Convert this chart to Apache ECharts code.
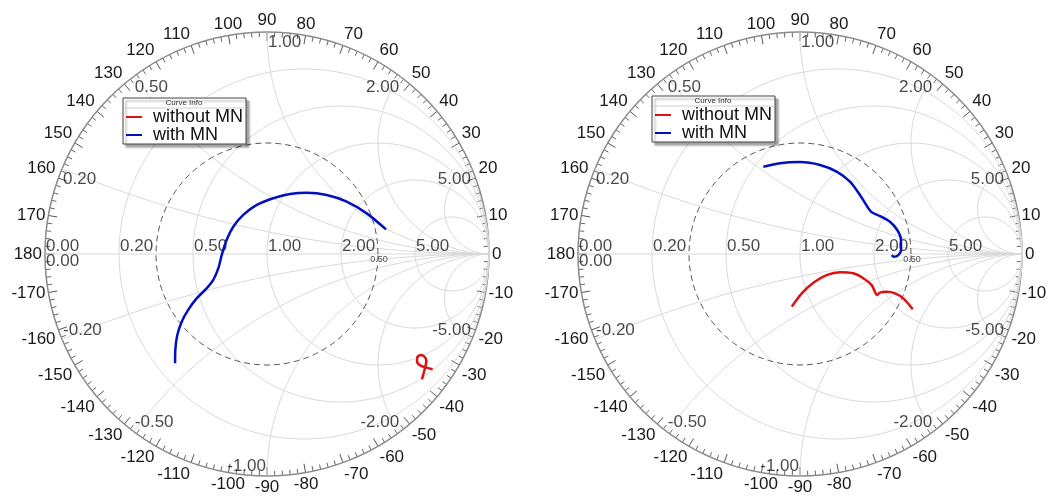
<!DOCTYPE html>
<html><head><meta charset="utf-8">
<script src="https://cdn.jsdelivr.net/npm/echarts@6/dist/echarts.min.js"></script>
<style>html,body{margin:0;padding:0;background:#fff}#c{width:1051px;height:496px}</style>
</head><body><div id="c"></div>
<script>
// ---- grid definition values ----
const resistanceValues = [0.2, 0.5, 1, 2, 5];
const resistanceLabels = ['0.20', '0.50', '1.00', '2.00', '5.00'];
const reactanceValues = [0.2, 0.5, 1, 2, 5, -0.2, -0.5, -1, -2, -5];
const reactanceLabels = ['0.20', '0.50', '1.00', '2.00', '5.00', '-0.20', '-0.50', '-1.00', '-2.00', '-5.00'];
const vswrRadius = 0.5;
const vswrLabel = '0.50';
const seriesNames = ['without MN', 'with MN'];

// ---- left chart data (reflection coefficient, Re / Im) ----
const leftWithoutRe = [0.746, 0.719, 0.692, 0.676, 0.677, 0.692, 0.710, 0.718, 0.713, 0.706, 0.698];
const leftWithoutIm = [-0.519, -0.512, -0.503, -0.485, -0.465, -0.455, -0.463, -0.482, -0.508, -0.535, -0.565];
const leftWithRe = [0.536, 0.449, 0.359, 0.269, 0.179, 0.104, 0.028, -0.046, -0.107, -0.152, -0.182, -0.204, -0.219, -0.242, -0.272, -0.317, -0.355, -0.384, -0.404, -0.413, -0.414];
const leftWithIm = [0.111, 0.183, 0.236, 0.266, 0.276, 0.270, 0.251, 0.221, 0.176, 0.123, 0.063, -0.005, -0.064, -0.117, -0.155, -0.200, -0.252, -0.305, -0.365, -0.432, -0.492];

// ---- right chart data ----
const rightWithoutRe = [-0.037, 0.008, 0.060, 0.120, 0.180, 0.240, 0.285, 0.323, 0.348, 0.360, 0.390, 0.428, 0.465, 0.508];
const rightWithoutIm = [-0.237, -0.177, -0.129, -0.095, -0.082, -0.087, -0.109, -0.140, -0.185, -0.174, -0.170, -0.177, -0.200, -0.249];
const rightWithRe = [-0.165, -0.090, 0.000, 0.090, 0.165, 0.225, 0.270, 0.308, 0.323, 0.360, 0.405, 0.438, 0.455, 0.455, 0.443, 0.423, 0.413];
const rightWithIm = [0.393, 0.409, 0.414, 0.401, 0.371, 0.326, 0.266, 0.206, 0.188, 0.171, 0.145, 0.108, 0.063, 0.018, -0.005, -0.012, -0.005];

const FONT = 'Liberation Sans, Arial, sans-serif';
const GRIDC = '#d9d9d9';
const charts = [
  { cx: 267, cy: 254, R: 222, wRe: leftWithoutRe, wIm: leftWithoutIm, mRe: leftWithRe, mIm: leftWithIm, lg: [123, 98] },
  { cx: 800, cy: 254, R: 222, wRe: rightWithoutRe, wIm: rightWithoutIm, mRe: rightWithRe, mIm: rightWithIm, lg: [652, 96] }
];

function gamma(r, x) {
  const d = (r + 1) * (r + 1) + x * x;
  return [(r * r - 1 + x * x) / d, 2 * x / d];
}
function zip(a, b) { return a.map((v, i) => [v, b[i]]); }

const grids = [], xAxes = [], yAxes = [], polars = [], angleAxes = [], radiusAxes = [], series = [], legends = [], graphics = [];

charts.forEach((c, ci) => {
  grids.push({ left: c.cx - c.R, top: c.cy - c.R, width: 2 * c.R, height: 2 * c.R });
  xAxes.push({ gridIndex: ci, type: 'value', min: -1, max: 1, show: false });
  yAxes.push({ gridIndex: ci, type: 'value', min: -1, max: 1, show: false });
  polars.push({ center: [c.cx, c.cy], radius: c.R });
  radiusAxes.push({ polarIndex: ci, type: 'value', min: 0, max: 1, show: false });
  angleAxes.push({
    polarIndex: ci, type: 'value', min: -180, max: 180, interval: 10, startAngle: 180, clockwise: false,
    axisLine: { show: true, lineStyle: { color: '#8a8a8a', width: 1.5 } },
    axisTick: { show: true, inside: true, length: 9, lineStyle: { color: '#555', width: 1 } },
    minorTick: { show: true, splitNumber: 5, length: 5, lineStyle: { color: '#666', width: 1 } },
    splitLine: { show: false },
    axisLabel: { show: true, margin: 3, fontSize: 17, color: '#1a1a1a', fontFamily: FONT,
      formatter: v => (v === -180 || v === 180) ? '180' : String(v) }
  });
  const base = { type: 'line', xAxisIndex: ci, yAxisIndex: ci, showSymbol: false, symbol: 'none', silent: true, animation: false, z: 1 };
  // real axis
  series.push(Object.assign({}, base, { data: [[-1, 0], [1, 0]], lineStyle: { color: GRIDC, width: 1 } }));
  // constant resistance circles
  resistanceValues.forEach(r => {
    const cc = r / (r + 1), rad = 1 / (r + 1), pts = [];
    for (let i = 0; i <= 360; i++) { const t = i / 360 * 2 * Math.PI; pts.push([cc + rad * Math.cos(t), rad * Math.sin(t)]); }
    series.push(Object.assign({}, base, { data: pts, lineStyle: { color: GRIDC, width: 1 } }));
  });
  // constant reactance arcs
  reactanceValues.forEach(x => {
    const pts = [];
    for (let i = 0; i < 400; i++) { const r = Math.tan(i / 400 * Math.PI / 2); pts.push(gamma(r, x)); }
    pts.push([1, 0]);
    series.push(Object.assign({}, base, { data: pts, lineStyle: { color: GRIDC, width: 1 } }));
  });
  // constant |Gamma| circle
  const vp = [];
  for (let i = 0; i <= 360; i++) { const t = i / 360 * 2 * Math.PI; vp.push([vswrRadius * Math.cos(t), vswrRadius * Math.sin(t)]); }
  series.push(Object.assign({}, base, { data: vp, lineStyle: { color: '#555', width: 1, type: [6, 4] }, z: 2 }));
  // labels
  const lab = [];
  lab.push({ value: [-1, 0], name: '0.00', label: { align: 'left', verticalAlign: 'bottom', offset: [1, 1] } });
  lab.push({ value: [-1, 0], name: '0.00', label: { align: 'left', verticalAlign: 'top', offset: [1, -1] } });
  resistanceValues.forEach((r, i) => {
    lab.push({ value: [(r - 1) / (r + 1), 0], name: resistanceLabels[i], label: { align: 'left', verticalAlign: 'bottom', offset: [1, 1] } });
  });
  reactanceValues.forEach((x, i) => {
    const g = gamma(0, x);
    const right = Math.abs(x) > 1 || x === -1;
    const top = x > 0;
    lab.push({ value: g, name: reactanceLabels[i], label: { align: right ? 'right' : 'left', verticalAlign: top ? 'top' : 'bottom', offset: [right ? -1 : 1, top ? 2 : -1] } });
  });
  lab.push({ value: [vswrRadius, 0], name: vswrLabel, label: { align: 'center', verticalAlign: 'top', offset: [1, 1], fontSize: 9 } });
  series.push({ type: 'scatter', xAxisIndex: ci, yAxisIndex: ci, symbolSize: 0, silent: true, animation: false, z: 3,
    data: lab, label: { show: true, position: [0, 0], formatter: '{b}', fontSize: 17, color: '#1a1a1a', fontFamily: FONT } });
  // data curves
  series.push({ type: 'line', name: seriesNames[0], xAxisIndex: ci, yAxisIndex: ci, data: zip(c.wRe, c.wIm), showSymbol: false, symbol: 'none', smooth: 0.3, animation: false, z: 5,
    lineStyle: { color: '#dd1111', width: 2.5 }, itemStyle: { color: '#dd1111' } });
  series.push({ type: 'line', name: seriesNames[1], xAxisIndex: ci, yAxisIndex: ci, data: zip(c.mRe, c.mIm), showSymbol: false, symbol: 'none', smooth: 0.3, animation: false, z: 5,
    lineStyle: { color: '#0010c0', width: 2.5 }, itemStyle: { color: '#0010c0' } });
  legends.push({
    left: c.lg[0], top: c.lg[1], orient: 'vertical', data: seriesNames, icon: 'rect', itemWidth: 16, itemHeight: 2, itemGap: 0,
    padding: [10, 3, 0, 3], backgroundColor: '#fff', borderColor: '#444', borderWidth: 1, borderRadius: 0,
    shadowColor: 'rgba(0,0,0,0.35)', shadowOffsetX: 3, shadowOffsetY: 3, shadowBlur: 2,
    selectedMode: false, z: 10,
    textStyle: { fontSize: 18, color: '#111', fontFamily: FONT, padding: [0, 0, 0, 6] }
  });
  graphics.push({ type: 'text', x: c.lg[0] + 61, y: c.lg[1] + 5, z: 200, style: { text: 'Curve Info', fontSize: 8, fill: '#333', align: 'center', verticalAlign: 'middle', fontFamily: FONT } });
  graphics.push({ type: 'line', z: 200, shape: { x1: c.lg[0] + 1, y1: c.lg[1] + 10, x2: c.lg[0] + 121, y2: c.lg[1] + 10 }, style: { stroke: '#d0d0d0', lineWidth: 1 } });
});

const chart = echarts.init(document.getElementById('c'), null, { renderer: 'canvas' });
chart.setOption({
  animation: false,
  backgroundColor: '#fff',
  grid: grids, xAxis: xAxes, yAxis: yAxes,
  polar: polars, angleAxis: angleAxes, radiusAxis: radiusAxes,
  legend: legends,
  graphic: graphics,
  series: series
});
</script></body></html>
